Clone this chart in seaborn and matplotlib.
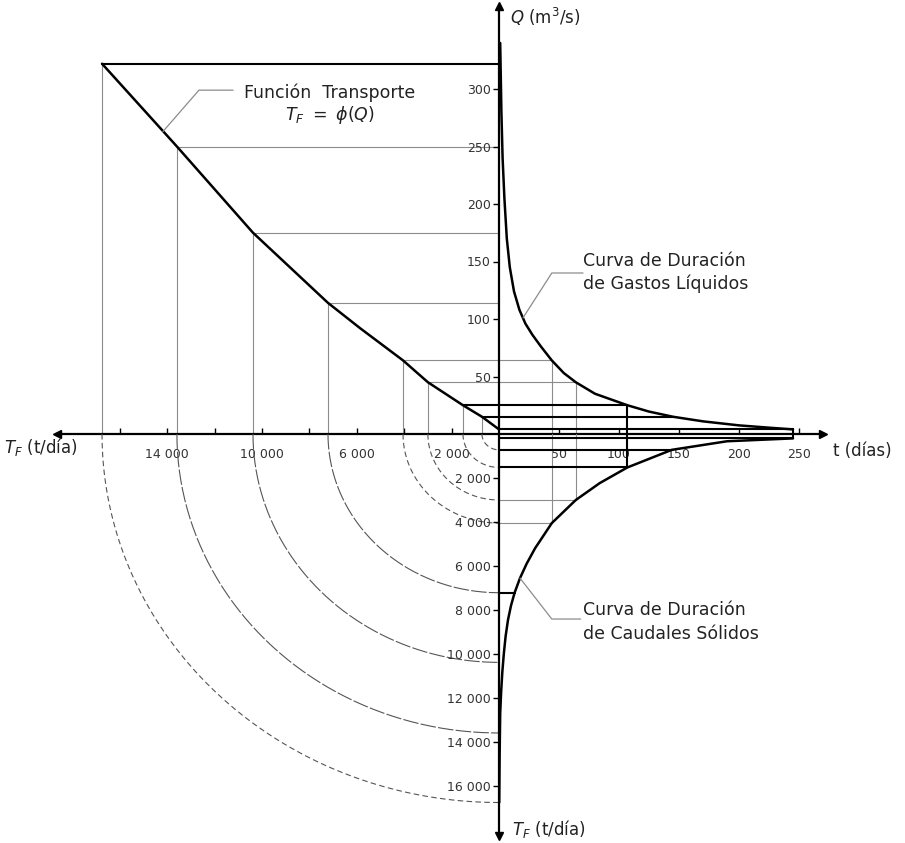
import numpy as np
import matplotlib
matplotlib.use("Agg")
import matplotlib.pyplot as plt
import seaborn as sns

# Funcion transporte T_F = phi(Q)   (T_F in t/dia, Q in m3/s)
transp_tf = [16750, 13590, 10380, 7215, 5860, 4050, 3000, 1520, 720, 0]
transp_q = [322, 250, 175, 114, 92, 64, 45, 25, 15, 4]

# Curva de duracion de gastos liquidos (t in dias)
liq_t = [1, 2, 3, 4.5, 6.5, 9, 12.5, 17, 22, 28, 35, 44, 54, 64, 80, 107, 125, 145, 170, 200, 225, 245]
liq_q = [340, 280, 240, 205, 170, 145, 124, 108, 96, 86, 76, 64, 53, 45, 35, 25, 19.5, 15, 11, 7.5, 5.5, 4]

# Curva de duracion de caudales solidos
sol_t = [0.2, 0.5, 1, 1.8, 2.8, 4, 5.5, 7.5, 10, 13, 17.5, 23, 30, 44, 64, 84, 107, 144, 190, 245]
sol_tf = [16750, 14700, 12700, 11700, 10800, 10000, 9200, 8450, 7800, 7215, 6550, 5900, 5200,
          4050, 3000, 2230, 1520, 720, 330, 200]

# construction levels: Q, matching T_F, days on the duration curves
cons_q = [322, 250, 175, 114, 64, 45, 25, 15, 4]
cons_tf = [16750, 13590, 10380, 7215, 4050, 3000, 1520, 720, 200]
cons_t = [None, None, None, 13, 44, 64, 107, 145, 245]

q_ticks = [50, 100, 150, 200, 250, 300]
t_ticks = [50, 100, 150, 200, 250]
tf_left_ticks = [2000, 4000, 6000, 8000, 10000, 12000, 14000, 16000]
tf_left_labels = ["2 000", "", "6 000", "", "10 000", "", "14 000", ""]
tf_down_ticks = [2000, 4000, 6000, 8000, 10000, 12000, 14000, 16000]
tf_down_labels = ["2 000", "4 000", "6 000", "8 000", "10 000", "12 000", "14 000", "16 000"]

sns.set_style("white")
plt.rcParams["font.family"] = ["DejaVu Sans"]

W, H = 905, 843
ox, oy = 499, 434
sL, sD, sQ, sT = 0.0237, 0.022, 1.15, 1.2   # px per unit in each direction

fig = plt.figure(figsize=(W / 100, H / 100), dpi=100)
ax_ul = fig.add_axes([0, 1 - oy / H, ox / W, oy / H])
ax_ur = fig.add_axes([ox / W, 1 - oy / H, (W - ox) / W, oy / H])
ax_ll = fig.add_axes([0, 0, ox / W, (H - oy) / H])
ax_lr = fig.add_axes([ox / W, 0, (W - ox) / W, (H - oy) / H])

for ax in (ax_ul, ax_ur, ax_ll, ax_lr):
    ax.set_facecolor("none")
    for s in ax.spines.values():
        s.set_visible(False)
    ax.set_xticks([])
    ax.set_yticks([])

ax_ul.set_xlim(ox / sL, 0)
ax_ul.set_ylim(0, oy / sQ)
ax_ur.set_xlim(0, (W - ox) / sT)
ax_ur.set_ylim(0, oy / sQ)
ax_ll.set_xlim(ox / sL, 0)
ax_ll.set_ylim((H - oy) / sD, 0)
ax_lr.set_xlim(0, (W - ox) / sT)
ax_lr.set_ylim((H - oy) / sD, 0)

thin = dict(color="#8c8c8c", lw=0.8)
bold = dict(color="black", lw=1.5)
bold_levels = [322, 25, 15, 4]
vert_levels = [64, 45, 25, 4]

# construction lines
for q, tf, t in zip(cons_q, cons_tf, cons_t):
    st = bold if q in bold_levels else thin
    if q != 4:
        ax_ul.plot([tf, tf], [0, q], **thin)
        ax_ul.plot([tf, 0], [q, q], **st)
    if t is not None:
        if q != 114:
            ax_ur.plot([0, t], [q, q], **st)
        ax_lr.plot([0, t], [tf, tf], **(bold if q in bold_levels + [114] else thin))
    if q in vert_levels:
        ax_ur.plot([t, t], [0, q], **st)
        ax_lr.plot([t, t], [0, tf], **st)
    if q != 4:
        th = np.linspace(0, np.pi / 2, 150)
        ls = (0, (5, 3)) if q in (322, 64, 45, 25, 15) else (0, (14, 2))
        ax_ll.plot(tf * np.cos(th), tf * np.sin(th), color="#555555", lw=0.8, ls=ls)

# main curves
sns.lineplot(x=transp_tf, y=transp_q, sort=False, estimator=None, ax=ax_ul, color="black", lw=1.8)
sns.lineplot(x=liq_t, y=liq_q, sort=False, estimator=None, ax=ax_ur, color="black", lw=1.8)
sns.lineplot(x=sol_t, y=sol_tf, sort=False, estimator=None, ax=ax_lr, color="black", lw=1.8)
for ax in (ax_ul, ax_ur, ax_lr):
    ax.set_xlabel("")
    ax.set_ylabel("")

# axes lines
axis_kw = dict(color="black", lw=1.6, clip_on=False, solid_capstyle="butt")
ax_ur.plot([0, 0], [0, 370], **axis_kw)
ax_ur.plot([0, 268], [0, 0], **axis_kw)
ax_ul.plot([0, 18500], [0, 0], **axis_kw)
ax_lr.plot([0, 0], [0, 18150], **axis_kw)
head = dict(color="black", ms=6, clip_on=False, ls="none")
ax_ur.plot([0], [372], marker="^", **head)
ax_ur.plot([270], [0], marker=">", **head)
ax_ul.plot([18650], [0], marker="<", **head)
ax_lr.plot([0], [18250], marker="v", **head)

# ticks
tick_kw = dict(labelsize=9, labelcolor="#333333", length=4, width=1, color="black")
ax_ur.set_yticks(q_ticks)
ax_ur.tick_params(axis="y", left=True, direction="out", pad=2, **tick_kw)
ax_ur.set_xticks(t_ticks)
ax_ur.tick_params(axis="x", bottom=True, direction="in", pad=10, **tick_kw)
ax_ul.set_xticks(tf_left_ticks)
ax_ul.set_xticklabels(tf_left_labels)
ax_ul.tick_params(axis="x", bottom=True, direction="in", pad=10, **tick_kw)
ax_lr.set_yticks(tf_down_ticks)
ax_lr.set_yticklabels(tf_down_labels)
ax_lr.tick_params(axis="y", left=True, direction="out", pad=2, **tick_kw)

# axis titles
txt = dict(color="#222222", fontsize=12)
ax_ur.text(9, 363, r"$Q$ (m$^3$/s)", ha="left", va="center", **txt)
ax_ur.text(278, -15, "t (días)", ha="left", va="center", **txt)
ax_ul.text(20900, -11, r"$T_F$ (t/día)", ha="left", va="center", **txt)
ax_lr.text(11, 17950, r"$T_F$ (t/día)", ha="left", va="center", **txt)

# annotations
lead = dict(color="#8c8c8c", lw=0.9)
lab = dict(fontsize=12.5, color="#222222")
ax_ul.plot([14180, 12660, 11220], [263, 299, 299], **lead)
ax_ul.text(7130, 297, "Función  Transporte", ha="center", va="center", **lab)
ax_ul.text(7130, 277, r"$T_F\ =\ \phi(Q)$", ha="center", va="center", **lab)

ax_ur.plot([20, 44, 70], [101, 140, 140], **lead)
ax_ur.text(70, 150, "Curva de Duración", ha="left", va="center", **lab)
ax_ur.text(70, 130.5, "de Gastos Líquidos", ha="left", va="center", **lab)

ax_lr.plot([17.5, 44, 68], [6550, 8410, 8410], **lead)
ax_lr.text(70, 8000, "Curva de Duración", ha="left", va="center", **lab)
ax_lr.text(70, 9090, "de Caudales Sólidos", ha="left", va="center", **lab)

fig.savefig("out.png", dpi=100)
